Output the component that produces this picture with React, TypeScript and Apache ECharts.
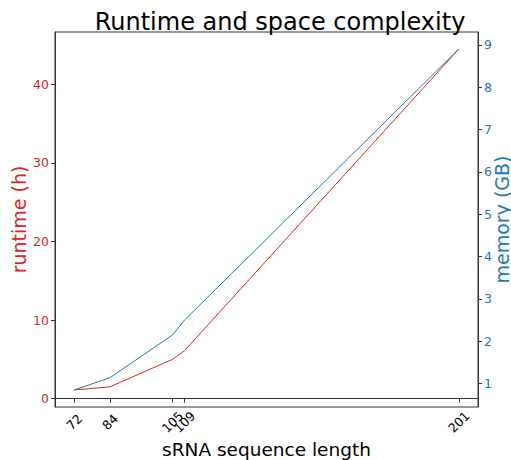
import React, { useEffect, useRef } from "react";
import * as echarts from "echarts";

const lengths = [72, 84, 105, 109, 201];
const runtimeH = [1.1, 1.5, 5.0, 6.1, 44.5];
const memoryGB = [0.85, 1.14, 2.15, 2.5, 8.9];
const runtimeTicks = [0, 10, 20, 30, 40];
const memoryTicks = [1, 2, 3, 4, 5, 6, 7, 8, 9];

const RED = "#d62728";
const BLUE = "#1f77b4";
const FONT = "DejaVu Sans";

function pad(vals: number[]) {
  const mn = Math.min(...vals);
  const mx = Math.max(...vals);
  const m = (mx - mn) * 0.05;
  return [mn - m, mx + m];
}

export default function App() {
  const ref = useRef<HTMLDivElement>(null);
  useEffect(() => {
    if (!ref.current) return;
    const chart = echarts.init(ref.current, null, { renderer: "svg" });
    const [xMin, xMax] = pad(lengths);
    const [rMin, rMax] = pad(runtimeH);
    const [mMin, mMax] = pad(memoryGB);
    chart.setOption({
      animation: false,
      title: {
        text: "Runtime and space complexity",
        left: 275,
        top: 5,
        textAlign: "center",
        textStyle: { fontFamily: FONT, fontSize: 24, fontWeight: "normal", color: "#000" },
      },
      grid: {
        left: 55,
        right: 33,
        top: 32,
        bottom: 53,
        show: true,
        borderColor: "#333",
        borderWidth: 1,
        containLabel: false,
        outerBoundsMode: "none",
      },
      xAxis: {
        type: "value",
        min: xMin,
        max: xMax,
        name: "sRNA sequence length",
        nameLocation: "middle",
        nameGap: 33,
        nameMoveOverlap: false,
        nameTextStyle: { fontFamily: FONT, fontSize: 18.5, color: "#000" },
        axisLine: { show: true, lineStyle: { color: "#333" } },
        axisTick: { show: true, length: 4, customValues: lengths, lineStyle: { color: "#333" } },
        axisLabel: {
          customValues: lengths,
          rotate: 45,
          align: "center",
          verticalAlign: "middle",
          margin: 15,
          fontFamily: FONT,
          fontSize: 12.5,
          color: "#000",
        },
        splitLine: { show: false },
      },
      yAxis: [
        {
          type: "value",
          position: "left",
          min: rMin,
          max: rMax,
          name: "runtime (h)",
          nameLocation: "middle",
          nameRotate: 90,
          nameGap: 27,
          nameMoveOverlap: false,
          nameTextStyle: { fontFamily: FONT, fontSize: 19, color: RED },
          axisLine: { show: true, lineStyle: { color: "#333" } },
          axisTick: { show: true, length: 4, customValues: runtimeTicks, lineStyle: { color: "#333" } },
          axisLabel: { customValues: runtimeTicks, fontFamily: FONT, fontSize: 12.5, color: RED, margin: 6 },
          splitLine: { show: false },
        },
        {
          type: "value",
          position: "right",
          min: mMin,
          max: mMax,
          name: "memory (GB)",
          nameLocation: "middle",
          nameRotate: 90,
          nameGap: 14,
          nameMoveOverlap: false,
          nameTextStyle: { fontFamily: FONT, fontSize: 19, color: BLUE },
          axisLine: { show: true, lineStyle: { color: "#333" } },
          axisTick: { show: true, length: 4, customValues: memoryTicks, lineStyle: { color: "#333" } },
          axisLabel: { customValues: memoryTicks, fontFamily: FONT, fontSize: 12.5, color: BLUE, margin: 6 },
          splitLine: { show: false },
        },
      ],
      series: [
        {
          type: "line",
          name: "runtime",
          yAxisIndex: 0,
          data: lengths.map((x, i) => [x, runtimeH[i]]),
          showSymbol: false,
          lineStyle: { color: RED, width: 1 },
          itemStyle: { color: RED },
        },
        {
          type: "line",
          name: "memory",
          yAxisIndex: 1,
          data: lengths.map((x, i) => [x, memoryGB[i]]),
          showSymbol: false,
          lineStyle: { color: BLUE, width: 1 },
          itemStyle: { color: BLUE },
        },
      ],
    });
    return () => chart.dispose();
  }, []);
  return <div ref={ref} style={{ width: 511, height: 460, position: "absolute", left: 0, top: 0 }} />;
}
